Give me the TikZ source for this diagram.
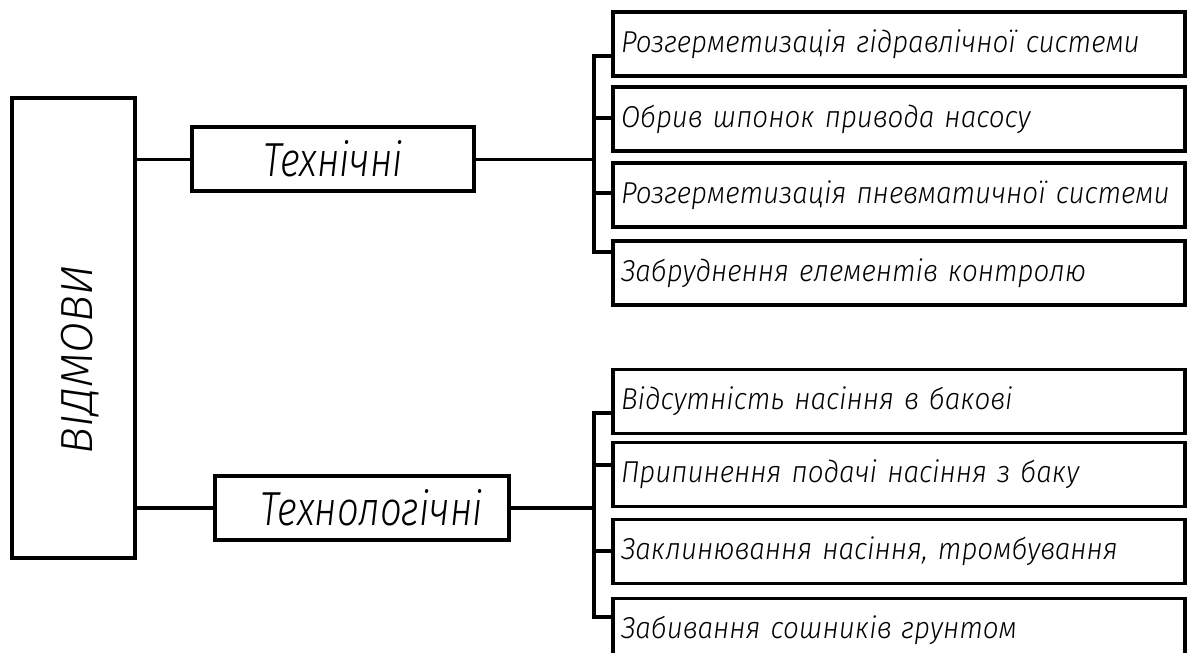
\documentclass[tikz,border=0pt]{standalone}
\usepackage{fontspec}
\setmainfont{Liberation Sans}
\newfontfamily\gost{Fira Sans}[UprightFont=* Light, ItalicFont=* Light Italic]
\newfontfamily\gostm{Fira Sans}[UprightFont=* Light, ItalicFont=* Light Italic, FakeStretch=0.92]
\newfontfamily\gostn{Fira Sans}[UprightFont=* Light, ItalicFont=* Light Italic, FakeStretch=0.8]
\usepackage{tikz}
\usetikzlibrary{calc,positioning}

\begin{document}
\begin{tikzpicture}[
  root/.style={rectangle, draw, line width=2.8pt, minimum width=3.075cm, minimum height=11.5cm},
  grp/.style={rectangle, draw, line width=2.8pt, minimum height=1.6cm,
              font=\gostn\itshape\fontsize{34}{38}\selectfont},
  itm/.style={rectangle, draw, line width=2.8pt, minimum height=1.6cm, inner xsep=0.2cm,
              text width=13.9cm, align=left, font=\gostm\itshape\fontsize{21.5}{25}\selectfont},
  ln/.style={line width=2.4pt}
]
\clip (0,0) rectangle (29.7,16.3);

\node[root] (vid) at (1.84,8.1) {};
\node[rotate=90, font=\gost\itshape\fontsize{32}{36}\selectfont] (vidt) at (2.0,7.3) {ВІДМОВИ};

\node[grp, minimum width=7.05cm] (tech) at (8.33,12.32) {Технічні};
\node[grp, minimum width=7.35cm] (tlog) at (9.05,3.6)  {\hspace*{0.5cm}Технологічні};

% technical failures
\node[itm] (t1) at (22.475,15.19)  {Розгерметизація гідравлічної системи};
\node[itm] (t2) at (22.475,13.325) {Обрив шпонок привода насосу};
\node[itm] (t3) at (22.475,11.425) {Розгерметизація пневматичної системи};
\node[itm] (t4) at (22.475,9.475)  {Забруднення елементів контролю};

% technological failures
\node[itm] (g1) at (22.475,6.2625) {Відсутність насіння в бакові};
\node[itm] (g2) at (22.475,4.4375) {Припинення подачі насіння з баку};
\node[itm] (g3) at (22.475,2.5125) {Заклинювання насіння, тромбування};
\node[itm] (g4) at (22.475,0.5375) {Забивання сошників грунтом};

\coordinate (ta) at (14.85,14.9);
\coordinate (tb) at (14.85,13.35);
\coordinate (tc) at (14.85,11.475);
\coordinate (td) at (14.85,10.0);
\coordinate (ga) at (14.85,5.975);
\coordinate (gb) at (14.85,4.675);
\coordinate (gc) at (14.85,2.525);
\coordinate (gd) at (14.85,0.875);

\draw[ln] (tech.west -| vid.east) -- (tech.west);
\draw[ln] (tlog.west -| vid.east) -- (tlog.west);
\draw[ln] (tech.east) -- (tech.east -| ta);
\draw[ln] (tlog.east) -- (tlog.east -| ga);

\draw[ln] (ta -| t1.west) -- (ta) -- (td) -- (td -| t4.west);
\draw[ln] (tb) -- (tb -| t2.west);
\draw[ln] (tc) -- (tc -| t3.west);
\draw[ln] (ga -| g1.west) -- (ga) -- (gd) -- (gd -| g4.west);
\draw[ln] (gb) -- (gb -| g2.west);
\draw[ln] (gc) -- (gc -| g3.west);
\end{tikzpicture}
\end{document}
